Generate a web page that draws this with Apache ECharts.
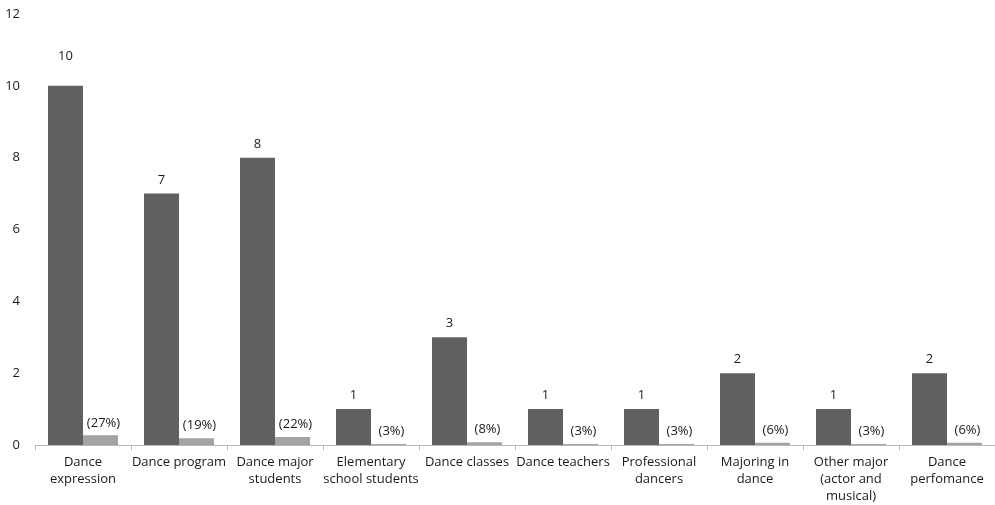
<!DOCTYPE html>
<html>
<head>
<meta charset="utf-8">
<script src="https://cdn.jsdelivr.net/npm/echarts@6/dist/echarts.min.js"></script>
<style>
  html, body { margin: 0; padding: 0; background: #fff; }
  #chart { width: 995px; height: 505px; }
</style>
</head>
<body>
<div id="chart"></div>
<script>
// Category labels (line breaks as laid out under the axis)
const categories = [
  'Dance\nexpression',
  'Dance program',
  'Dance major\nstudents',
  'Elementary\nschool students',
  'Dance classes',
  'Dance teachers',
  'Professional\ndancers',
  'Majoring in\ndance',
  'Other major\n(actor and\nmusical)',
  'Dance\nperfomance'
];
// Number of responses per category
const counts = [10, 7, 8, 1, 3, 1, 1, 2, 1, 2];
// Share of all responses, in percent
const percents = [27, 19, 22, 3, 8, 3, 3, 6, 3, 6];
// Y-axis ticks
const yTicks = [0, 2, 4, 6, 8, 10, 12];

const FONT = '"Open Sans", sans-serif';
const TEXT = '#1a1a1a';

const chart = echarts.init(document.getElementById('chart'), null, { renderer: 'canvas' });

chart.setOption({
  animation: false,
  backgroundColor: '#ffffff',
  grid: { left: 35, top: 14, width: 966, bottom: 57, containLabel: false },
  xAxis: {
    type: 'category',
    data: categories,
    axisLine: { show: true, lineStyle: { color: '#b8b8b8', width: 1 } },
    axisTick: { show: true, length: 5, lineStyle: { color: '#b8b8b8' } },
    axisLabel: {
      interval: 0,
      margin: 9,
      color: TEXT,
      fontFamily: FONT,
      fontSize: 13,
      lineHeight: 17
    }
  },
  yAxis: {
    type: 'value',
    min: yTicks[0],
    max: yTicks[yTicks.length - 1],
    interval: yTicks[1] - yTicks[0],
    axisLine: { show: false },
    axisTick: { show: false },
    splitLine: { show: false },
    axisLabel: {
      margin: 15,
      color: TEXT,
      fontFamily: FONT,
      fontSize: 13
    }
  },
  series: [
    {
      name: 'Count',
      type: 'bar',
      barWidth: 35,
      barGap: '0%',
      itemStyle: { color: '#606060' },
      data: counts.map((v, i) => ({
        value: v,
        label: i === 0 ? { distance: 23 } : undefined
      })),
      label: {
        show: true,
        position: 'top',
        distance: 7,
        color: TEXT,
        fontFamily: FONT,
        fontSize: 13
      }
    },
    {
      name: 'Percent',
      type: 'bar',
      barWidth: 35,
      itemStyle: { color: '#a3a3a3' },
      data: percents.map(p => p / 100),
      label: {
        show: true,
        position: 'top',
        distance: 6,
        offset: [3, 0],
        color: TEXT,
        fontFamily: FONT,
        fontSize: 13,
        formatter: (p) => '(' + percents[p.dataIndex] + '%)'
      }
    }
  ]
});
</script>
</body>
</html>
